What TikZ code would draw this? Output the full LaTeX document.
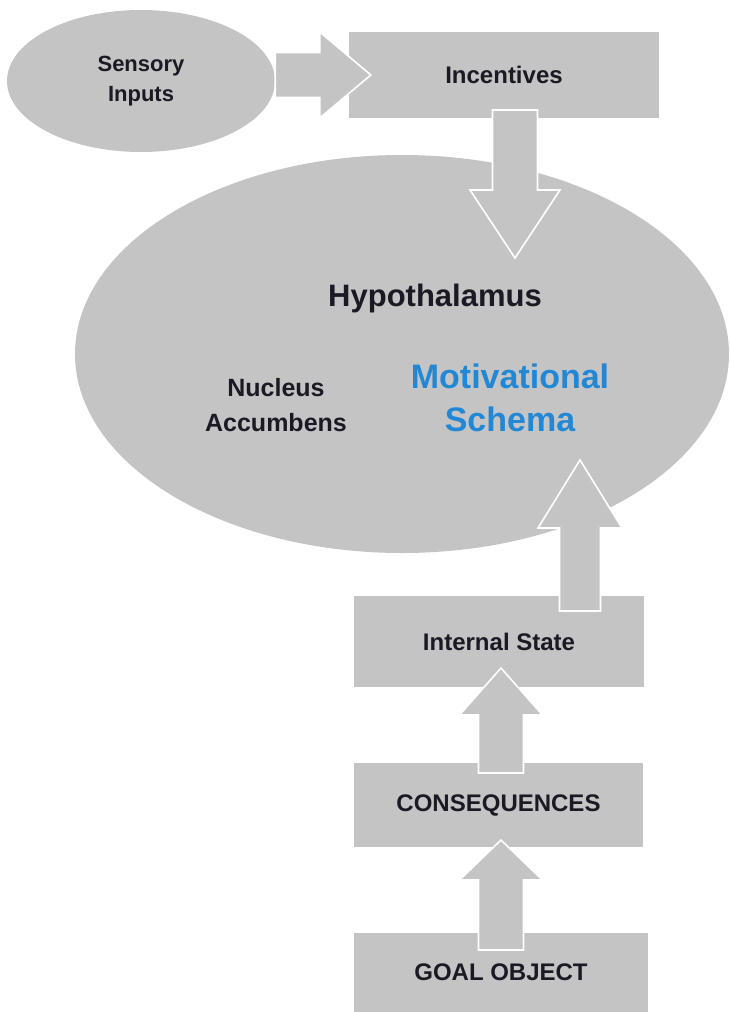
\documentclass[tikz,border=0pt]{standalone}
\usepackage{fontspec}
\setmainfont{Liberation Sans}
\usetikzlibrary{shapes.geometric,calc}

\definecolor{shapegray}{RGB}{196,196,196}
\definecolor{inkdark}{RGB}{26,26,36}
\definecolor{schemablue}{RGB}{34,136,214}

% Block arrow from #1 to #2: shaft half-width #3, head half-width #4, head length #5
\newcommand\blockarrow[5]{%
  \path ($(#2)!#5!(#1)$) coordinate (hb);
  \filldraw[blockarrowstyle]
    ($(#1)!#3!90:(#2)$) -- ($(hb)!#3!90:(#2)$) -- ($(hb)!#4!90:(#2)$) --
    (#2) --
    ($(hb)!#4!-90:(#2)$) -- ($(hb)!#3!-90:(#2)$) -- ($(#1)!#3!-90:(#2)$) -- cycle;
}

\tikzset{
  blockarrowstyle/.style={fill=shapegray, draw=white, line width=1.6pt, line join=miter},
  boxnode/.style={rectangle, fill=shapegray, inner sep=0pt, text=inkdark,
    font=\bfseries\fontsize{24}{28}\selectfont},
  ovalnode/.style={ellipse, fill=shapegray, inner sep=0pt, text=inkdark},
  label24/.style={text=inkdark, align=center, font=\bfseries\fontsize{25}{35}\selectfont},
}

\begin{document}
\begin{tikzpicture}[x=1pt, y=-1pt]
  \useasboundingbox (0,0) rectangle (729,1012);

  % shapes
  \node[ovalnode, minimum width=268pt, minimum height=142pt, align=center,
        font=\bfseries\fontsize{22}{30}\selectfont] (sens) at (141,81) {Sensory\\Inputs};
  \node[boxnode, minimum width=310pt, minimum height=86pt] (inc) at (504,75) {Incentives};
  \node[ovalnode, minimum width=654pt, minimum height=398pt] (hypo) at (402,354) {};
  \node[boxnode, minimum width=290pt, minimum height=91pt] (internal) at (499,641.5) {Internal State};
  \node[boxnode, minimum width=289pt, minimum height=84pt] (conseq) at (498.5,805) {CONSEQUENCES};
  \node[boxnode, minimum width=294pt, minimum height=79pt] (goal) at (501,972.5) {GOAL OBJECT};

  % texts inside the large oval
  \node[text=inkdark, font=\bfseries\fontsize{31}{36}\selectfont] (hyptext) at (435,298) {Hypothalamus};
  \node[label24] (nacc) at (276,405) {Nucleus\\Accumbens};
  \node[text=schemablue, align=center, font=\bfseries\fontsize{34}{43}\selectfont] (motiv) at (510,398) {Motivational\\Schema};

  % arrow end points
  \coordinate (s1) at (sens.east |- inc.west);
  \coordinate (t1) at ($(inc.west)+(22,0)$);
  \coordinate (s2) at (515,110);
  \coordinate (t2) at (515,258);
  \coordinate (s3) at (580,611);
  \coordinate (t3) at (580,460);
  \coordinate (s4) at (501,773);
  \coordinate (t4) at (501,668);
  \coordinate (s5) at (501,950);
  \coordinate (t5) at (501,840);

  % connectors
  \blockarrow{s1}{t1}{22.5pt}{43pt}{51pt}
  \blockarrow{s2}{t2}{22.5pt}{45pt}{68pt}
  \blockarrow{s3}{t3}{20.5pt}{42pt}{68pt}
  \blockarrow{s4}{t4}{22.5pt}{41.5pt}{47pt}
  \blockarrow{s5}{t5}{22.5pt}{41.5pt}{40pt}
\end{tikzpicture}
\end{document}
